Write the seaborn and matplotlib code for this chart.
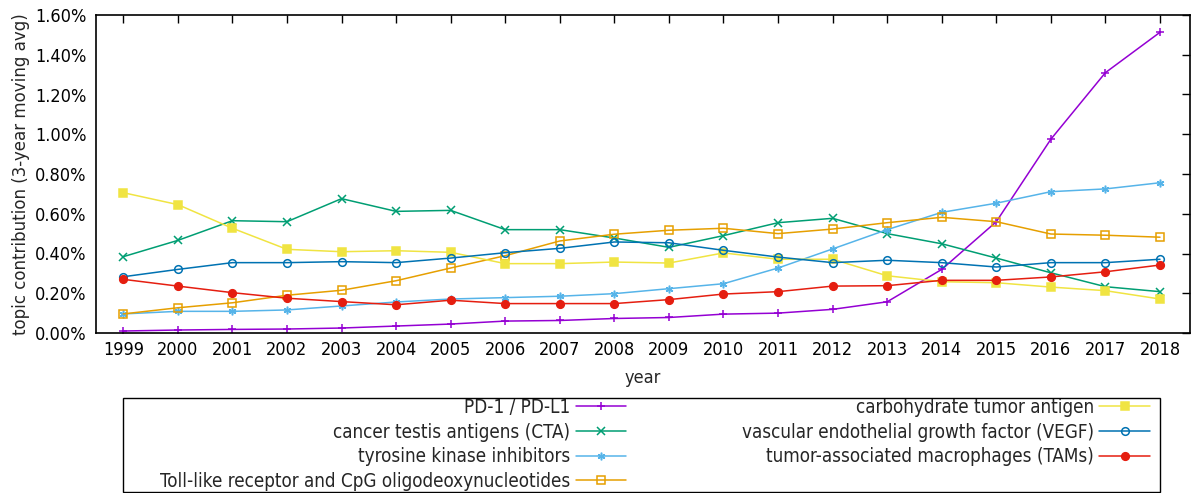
import numpy as np
import pandas as pd
import seaborn as sns
import matplotlib.pyplot as plt
from matplotlib.patches import Rectangle
from matplotlib.ticker import FuncFormatter, MultipleLocator

years = list(range(1999, 2019))

pd1 = [0.010, 0.015, 0.018, 0.020, 0.025, 0.035, 0.045, 0.060, 0.063, 0.073,
       0.078, 0.095, 0.100, 0.119, 0.157, 0.320, 0.560, 0.975, 1.310, 1.513]
cta = [0.384, 0.466, 0.565, 0.560, 0.676, 0.612, 0.617, 0.520, 0.520, 0.478,
       0.431, 0.490, 0.555, 0.577, 0.500, 0.449, 0.377, 0.303, 0.233, 0.208]
tki = [0.096, 0.109, 0.109, 0.116, 0.136, 0.156, 0.171, 0.178, 0.185, 0.198,
       0.223, 0.248, 0.327, 0.423, 0.520, 0.607, 0.653, 0.711, 0.725, 0.756]
toll = [0.096, 0.127, 0.152, 0.190, 0.215, 0.263, 0.327, 0.389, 0.463, 0.497,
        0.517, 0.527, 0.500, 0.523, 0.555, 0.582, 0.560, 0.498, 0.492, 0.482]
carb = [0.706, 0.646, 0.527, 0.421, 0.409, 0.414, 0.406, 0.349, 0.349, 0.357,
        0.352, 0.403, 0.371, 0.371, 0.288, 0.258, 0.253, 0.231, 0.213, 0.171]
vegf = [0.283, 0.320, 0.354, 0.354, 0.359, 0.354, 0.377, 0.404, 0.426, 0.458,
        0.454, 0.416, 0.382, 0.354, 0.366, 0.354, 0.332, 0.354, 0.354, 0.371]
tams = [0.270, 0.236, 0.203, 0.175, 0.158, 0.142, 0.165, 0.148, 0.148, 0.148,
        0.168, 0.196, 0.208, 0.236, 0.238, 0.265, 0.265, 0.282, 0.308, 0.342]

series = [
    ('PD-1 / PD-L1', pd1, '#9400d3', '+', 'full'),
    ('cancer testis antigens (CTA)', cta, '#009e73', 'x', 'full'),
    ('tyrosine kinase inhibitors', tki, '#56b4e9', (6, 2, 0), 'full'),
    ('Toll-like receptor and CpG oligodeoxynucleotides', toll, '#e69f00', 's', 'none'),
    ('carbohydrate tumor antigen', carb, '#f0e442', 's', 'full'),
    ('vascular endothelial growth factor (VEGF)', vegf, '#0072b2', 'o', 'none'),
    ('tumor-associated macrophages (TAMs)', tams, '#e51e10', 'o', 'full'),
]

sns.set_style('white')
plt.rcParams['font.family'] = ['DejaVu Sans']
plt.rcParams['font.stretch'] = 'condensed'
plt.rcParams['font.size'] = 13

fig = plt.figure(figsize=(11.93, 4.93), dpi=100)
ax = fig.add_axes([96 / 1193, 1 - 333 / 493, (1190 - 96) / 1193, (333 - 15) / 493])

for name, vals, col, mk, fill in series:
    df = pd.DataFrame({'year': years, 'val': vals})
    sns.lineplot(data=df, x='year', y='val', ax=ax, color=col, marker=mk,
                 fillstyle=fill, markersize=5.5, markeredgewidth=1.1,
                 markeredgecolor=col, linewidth=1.1, label=name)

ax.set_xlim(1998.5, 2018.55)
ax.set_ylim(0, 1.6)
ax.set_xticks(years)
ax.yaxis.set_major_locator(MultipleLocator(0.2))
ax.yaxis.set_major_formatter(FuncFormatter(lambda v, p: f'{v:.2f}%'))
ax.tick_params(direction='in', top=True, right=True, length=6, width=1, colors='black', labelsize=13)
ax.tick_params(axis='y', pad=7)
ax.tick_params(axis='x', pad=6)
for s in ax.spines.values():
    s.set_color('black')
    s.set_linewidth(1.2)
ax.set_xlabel('year', fontsize=13, labelpad=7)
ax.set_ylabel('topic contribution (3-year moving avg)', fontsize=13.3, labelpad=3)

# legend box below the plot, gnuplot style (text right aligned, sample after)
fig.patches.append(Rectangle((123 / 1193, 1 - 492 / 493), (1160 - 123) / 1193, 94 / 493,
                             transform=fig.transFigure, fill=False, edgecolor='black', linewidth=1))
leg = ax.legend(loc='upper right', bbox_to_anchor=(1150 / 1193, 1 - 398 / 493),
                bbox_transform=fig.transFigure, ncol=2, markerfirst=False,
                frameon=False, fontsize=13.5, handlelength=2.7, handletextpad=0.3,
                labelspacing=0.3, borderaxespad=0, borderpad=0, columnspacing=6.15)

plt.savefig('out.png', dpi=100)
